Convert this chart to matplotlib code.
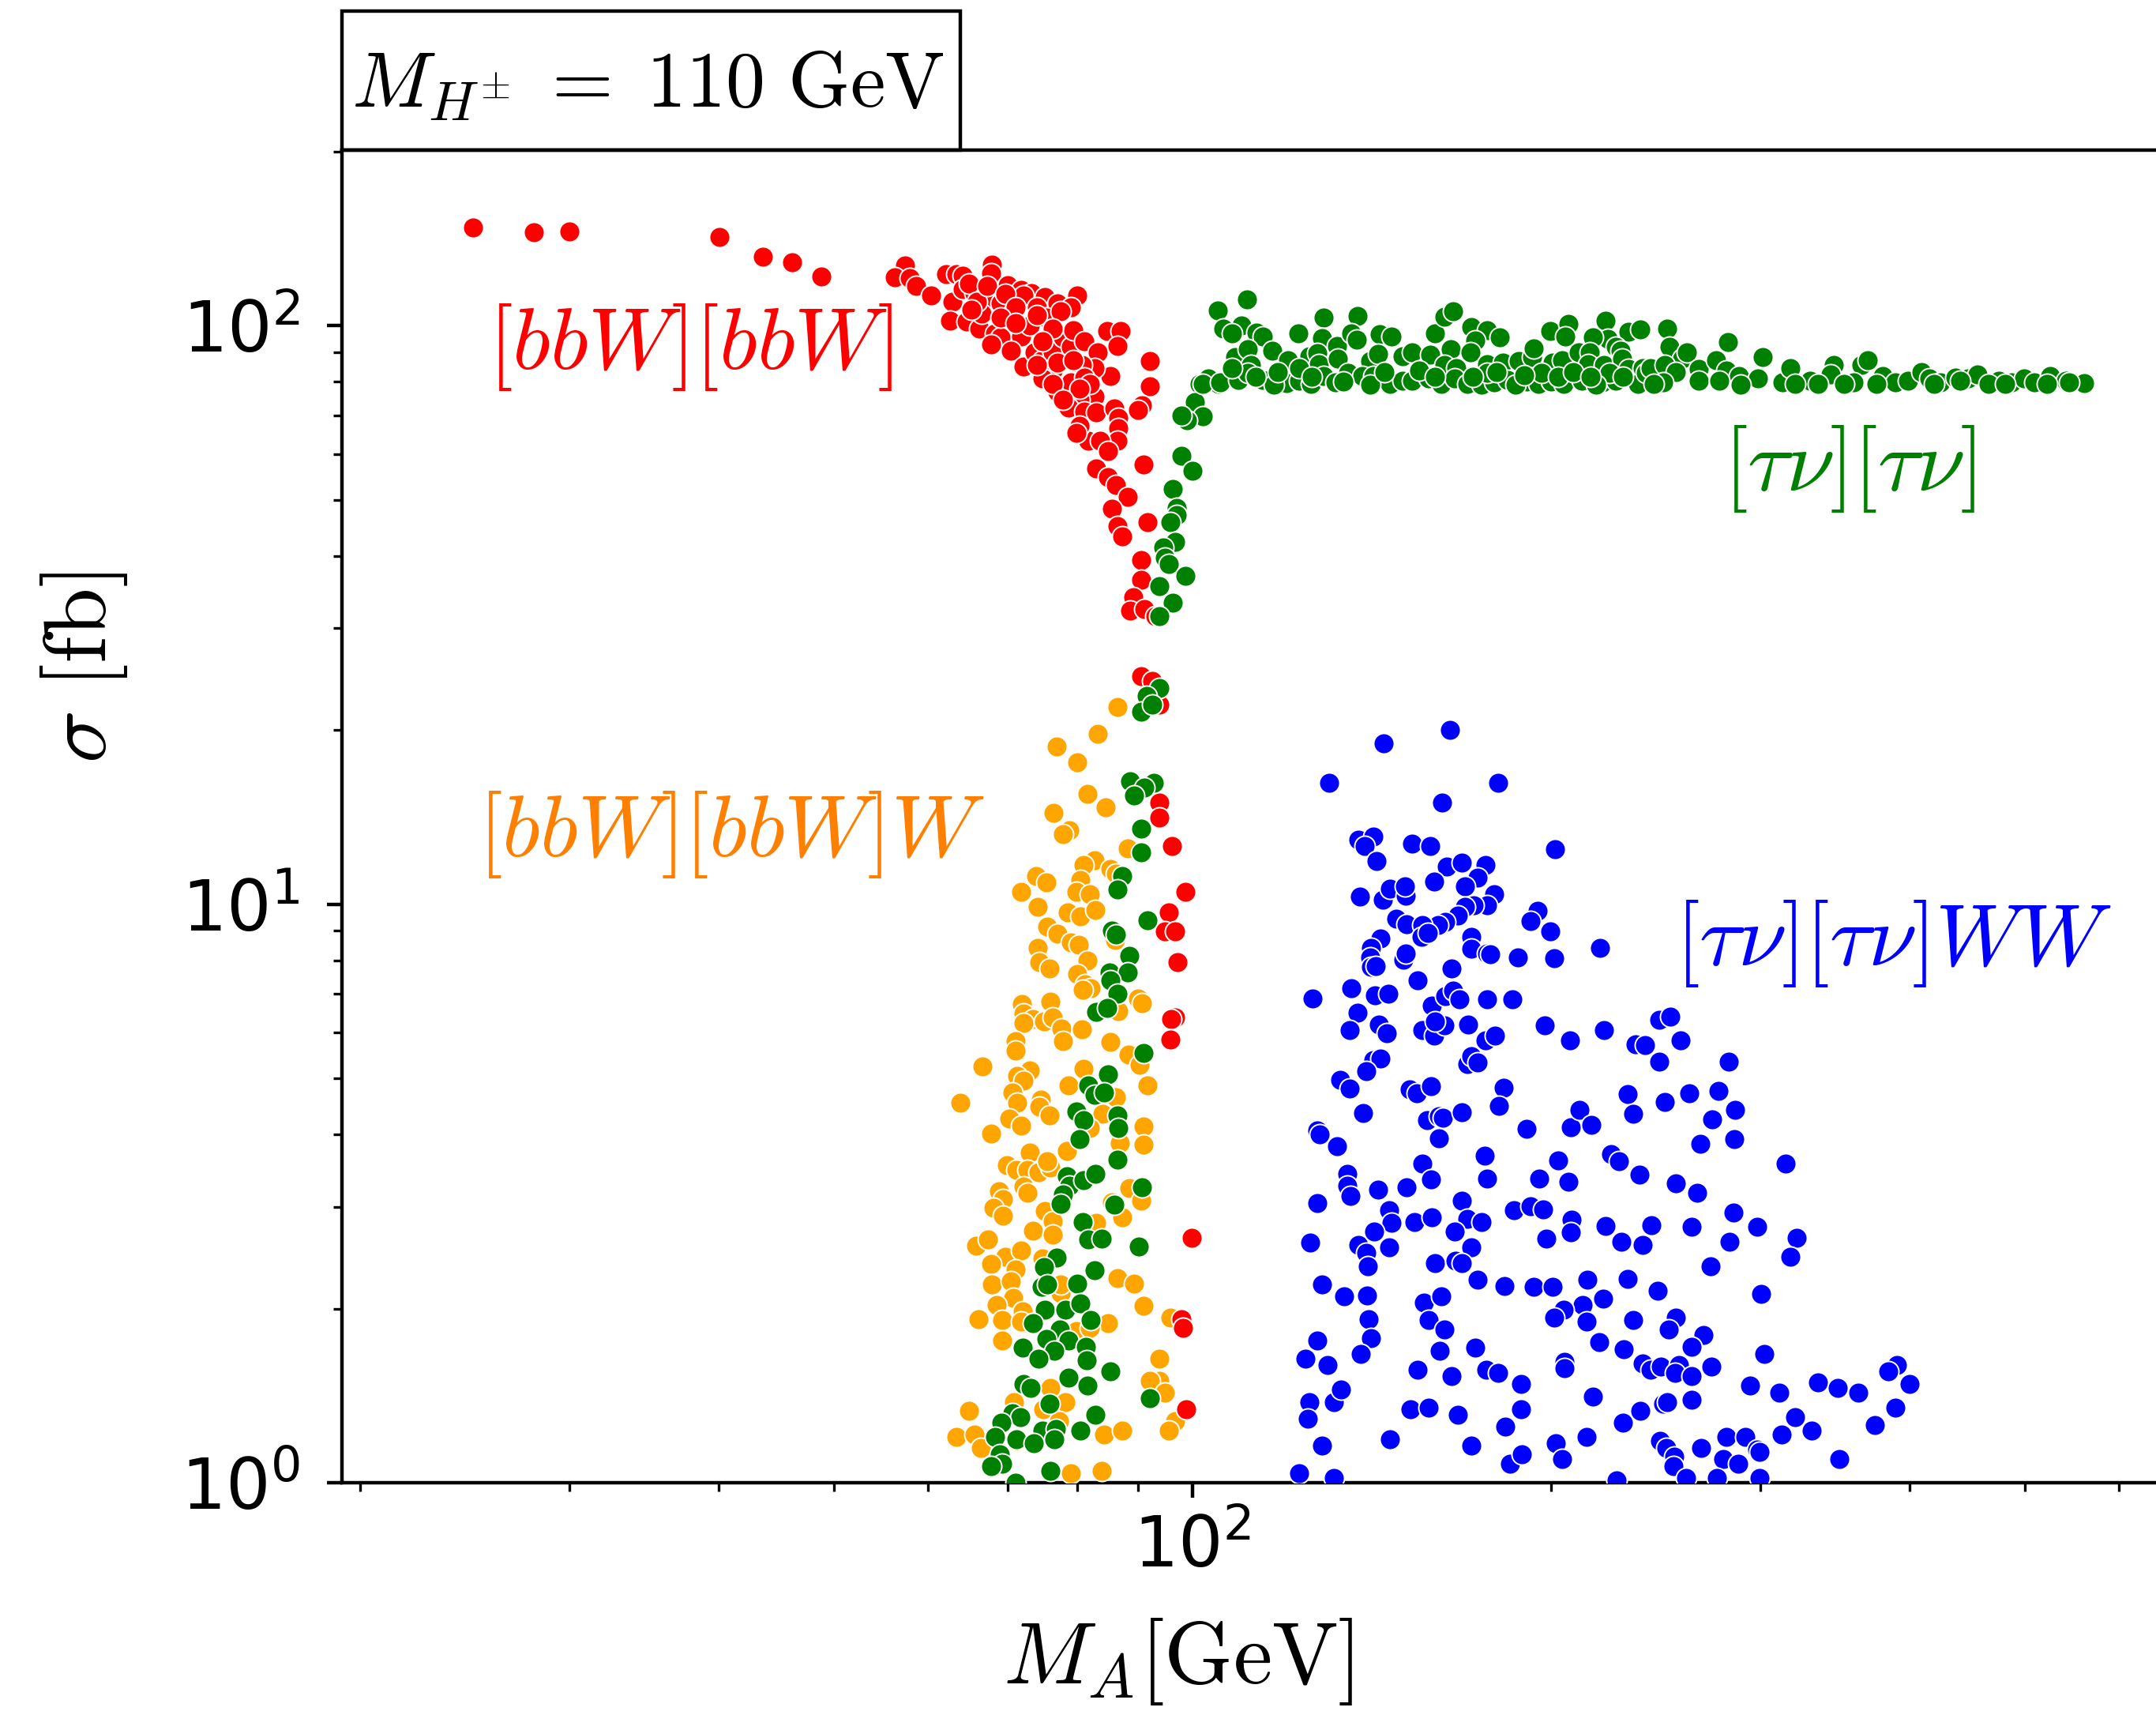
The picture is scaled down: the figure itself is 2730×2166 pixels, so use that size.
import numpy as np
import matplotlib
matplotlib.use("Agg")
import matplotlib.pyplot as plt
from matplotlib.patches import Rectangle

# ---- [bbW][bbW] channel: (M_A [GeV], sigma [fb]) ----
bbw_points = [
    (24.9, 147.6), (28.0, 145.0), (30.0, 145.4), (40.1, 142.3), (43.6, 131.6), (46.1, 128.5), (48.8, 121.7),
    (57.4, 127.1), (56.3, 121.3), (57.9, 120.6), (58.6, 116.9), (60.4, 112.7), (62.1, 122.6), (63.4, 122.6),
    (64.2, 121.9), (67.9, 127.4), (67.8, 123.2), (70.0, 117.5), (71.8, 115.1), (73.3, 113.9), (75.2, 112.1),
    (77.1, 109.2), (80.1, 112.7), (79.1, 107.5), (62.9, 109.8), (64.2, 115.7), (65.6, 113.9), (66.9, 110.9),
    (69.0, 109.2), (70.8, 110.9), (72.2, 112.7), (74.1, 107.5), (75.4, 103.1), (77.5, 105.8), (62.6, 102.0),
    (64.6, 101.5), (66.2, 98.9), (66.6, 104.7), (68.3, 96.8), (69.0, 95.3), (70.4, 104.2), (71.8, 95.8),
    (73.0, 99.9), (67.8, 92.8), (70.4, 90.4), (72.2, 84.9), (73.7, 89.9), (74.8, 87.2), (76.4, 89.9),
    (77.9, 95.3), (79.1, 91.9), (79.5, 98.3), (81.2, 93.8), (83.3, 89.9), (84.8, 97.8), (87.1, 97.8),
    (86.5, 92.3), (85.4, 81.8), (82.8, 84.5), (80.8, 85.4), (76.4, 83.6), (74.8, 81.0), (77.1, 76.9),
    (79.1, 79.7), (81.2, 81.4), (82.8, 75.3), (80.4, 74.5), (78.7, 72.2), (81.2, 71.0), (83.0, 70.7),
    (86.0, 71.8), (86.7, 69.2), (86.7, 66.4), (86.5, 63.3), (81.8, 63.3), (80.4, 67.1), (79.9, 65.3),
    (83.7, 63.3), (85.0, 60.7), (92.2, 86.7), (92.2, 78.5), (90.8, 72.9), (90.1, 71.4), (83.0, 56.7),
    (85.0, 54.7), (86.3, 53.0), (88.3, 50.5), (85.6, 48.2), (86.5, 45.0), (87.4, 43.2), (91.0, 57.6),
    (91.7, 45.7), (90.6, 39.3), (90.6, 36.3), (89.2, 33.9), (88.7, 32.2), (91.2, 32.4), (93.1, 31.5),
    (64.9, 118.1), (65.9, 109.8), (67.3, 116.9), (69.7, 113.3), (71.1, 107.5), (69.0, 103.1),
    (65.2, 106.4), (74.1, 104.2), (76.4, 98.9), (71.1, 101.0), (74.8, 93.8), (77.1, 86.3),
    (74.1, 85.4), (79.5, 87.2), (82.0, 79.3), (80.4, 77.7), (76.4, 79.3), (77.9, 74.5),
    (90.6, 24.8), (92.6, 24.3), (93.8, 22.1), (93.8, 15.0), (93.8, 14.1), (96.2, 12.6), (98.7, 10.5),
    (95.5, 9.69), (94.8, 8.96), (96.7, 8.98), (97.2, 7.94), (96.7, 6.37), (96.0, 6.34), (95.8, 5.83),
    (99.9, 2.65), (98.0, 1.92), (98.2, 1.85), (98.9, 1.34),
]

# ---- [bbW][bbW]W channel ----
bbww_points = [
    (86.5, 21.9), (83.3, 19.7), (76.9, 18.7), (80.1, 17.6), (81.6, 15.5), (76.5, 14.4), (84.6, 14.7),
    (78.9, 13.4), (77.9, 13.2), (88.3, 12.5), (82.8, 11.9), (81.0, 11.7), (85.4, 11.5), (86.3, 11.3),
    (73.9, 11.2), (75.4, 10.9), (71.8, 10.5), (80.6, 11.0), (79.9, 10.5), (82.0, 10.4), (74.2, 9.9),
    (78.6, 9.69), (80.6, 9.52), (82.9, 9.76), (75.5, 9.15), (77.0, 8.89), (79.1, 8.59), (80.3, 8.50),
    (86.2, 8.68), (74.2, 8.41), (74.4, 7.94), (75.9, 7.73), (81.7, 8.00), (80.0, 7.57), (81.3, 7.26),
    (82.2, 7.15), (80.9, 7.11), (90.1, 6.86), (90.8, 6.75), (71.9, 6.71), (76.0, 6.78), (72.2, 6.47),
    (73.5, 6.34), (72.2, 6.24), (75.1, 6.27), (76.4, 6.37), (77.6, 6.09), (80.8, 6.08), (86.7, 6.54),
    (71.1, 5.80), (77.9, 5.80), (85.3, 5.77), (71.1, 5.59), (88.4, 5.50),
    (66.7, 5.24), (73.1, 5.16), (71.3, 5.05), (72.2, 4.95), (63.9, 4.53), (70.6, 4.72), (71.3, 4.54),
    (74.6, 4.59), (74.4, 4.47), (75.9, 4.32), (70.2, 4.26), (71.8, 4.14), (67.8, 4.01), (78.7, 4.86),
    (81.0, 5.20), (86.3, 4.64), (84.1, 4.34), (82.0, 4.10), (91.0, 4.13), (91.0, 3.84), (86.9, 3.87),
    (91.7, 4.86), (90.3, 5.27), (78.5, 3.75), (73.1, 3.72), (69.9, 3.54), (71.2, 3.47), (72.7, 3.47),
    (74.3, 3.44), (76.0, 3.51), (75.6, 3.59), (68.8, 3.19), (69.3, 3.09), (72.2, 3.25), (72.7, 3.17),
    (68.1, 2.99), (69.3, 2.89), (75.2, 2.95), (76.3, 2.83), (73.5, 2.73), (76.3, 2.68), (83.0, 2.81),
    (88.5, 3.23), (90.6, 3.07), (87.4, 2.88), (85.6, 3.05), (65.8, 2.57), (67.4, 2.63), (69.7, 2.46),
    (71.8, 2.52), (67.8, 2.39), (71.1, 2.34), (74.9, 2.44), (67.9, 2.20), (70.4, 2.23), (70.7, 2.09),
    (68.5, 2.03), (77.5, 2.13), (77.5, 2.20), (72.0, 1.98), (86.5, 2.26), (89.3, 2.21), (91.0, 2.02),
    (69.2, 1.91), (71.8, 1.90), (66.1, 1.92), (85.0, 1.89), (79.9, 1.83), (82.0, 1.85), (95.9, 1.93),
    (69.2, 1.76), (93.8, 1.64), (93.8, 1.50), (92.2, 1.50), (94.8, 1.43), (76.0, 1.46), (70.9, 1.38),
    (78.3, 1.38), (75.0, 1.34), (64.9, 1.33), (63.4, 1.20), (65.6, 1.21), (66.4, 1.15), (77.3, 1.28),
    (84.3, 1.21), (87.4, 1.23), (96.7, 1.28), (95.5, 1.23), (79.1, 1.04), (84.0, 1.05), (71.2, 1.18),
]

# ---- [tau nu][tau nu] channel, steep branch below 100 GeV ----
taunu_low_points = [
    (98.0, 59.5), (100.0, 56.1), (96.3, 52.2), (97.0, 48.4), (97.0, 47.0), (95.8, 45.7), (96.7, 42.3),
    (94.6, 41.4), (94.8, 39.7), (95.5, 38.7), (98.7, 36.9), (93.8, 35.4), (96.3, 33.2), (93.8, 31.5),
    (93.8, 23.6), (91.5, 22.9), (90.6, 21.5), (92.6, 22.1), (88.7, 16.3), (92.9, 16.2), (91.2, 15.9),
    (89.4, 15.4), (90.6, 13.5), (90.6, 12.3), (87.4, 11.2), (86.5, 10.6), (91.7, 9.39), (85.6, 9.00),
    (86.3, 8.87), (88.5, 8.15), (85.2, 7.61), (88.3, 7.61), (85.4, 7.38), (86.5, 7.00), (83.0, 6.51),
    (84.8, 6.61), (91.0, 5.53),
    (85.0, 5.08), (81.8, 4.86), (82.8, 4.68), (84.3, 4.73), (79.9, 4.38), (81.1, 4.23), (80.4, 3.93),
    (86.5, 4.32), (86.7, 4.10), (86.6, 3.62), (78.5, 3.39), (78.9, 3.26), (81.0, 3.33), (82.9, 3.42),
    (77.9, 3.15), (77.5, 3.03), (90.8, 3.24), (86.0, 3.02), (80.9, 2.82), (81.8, 2.63), (84.0, 2.64),
    (90.2, 2.56), (76.9, 2.45), (75.1, 2.36), (74.7, 2.18), (75.6, 2.20), (80.0, 2.21), (82.8, 2.33),
    (75.2, 1.99), (78.3, 1.99), (80.6, 2.04), (82.1, 1.91), (73.5, 1.89), (77.4, 1.84), (75.4, 1.77),
    (78.7, 1.76), (76.6, 1.69), (72.1, 1.71), (74.3, 1.64), (81.4, 1.72), (81.5, 1.63), (85.4, 1.56),
    (78.7, 1.52), (81.7, 1.47), (72.2, 1.48), (73.2, 1.46), (92.2, 1.40), (75.9, 1.37), (70.6, 1.32),
    (71.7, 1.30), (69.1, 1.27), (82.9, 1.31), (74.8, 1.23), (76.8, 1.24), (68.3, 1.20), (71.2, 1.19),
    (73.6, 1.17), (76.6, 1.19), (80.6, 1.23), (68.9, 1.12), (69.2, 1.08), (67.8, 1.07), (76.0, 1.05),
    (71.1, 1.00),
]

# ---- [tau nu][tau nu] channel, plateau above 100 GeV ----
taunu_high_points = [
    (105.2, 79.3), (103.1, 81.0), (101.5, 79.3), (100.5, 73.7), (102.1, 69.6), (99.0, 68.5), (98.0, 69.9),
    (105.0, 106.2), (111.2, 110.9), (106.2, 98.9), (110.0, 100.1), (108.0, 96.8), (113.3, 97.3),
    (114.6, 95.6), (122.7, 96.8), (129.0, 103.3), (137.7, 103.8), (128.6, 95.0), (132.2, 92.3),
    (135.9, 96.8), (137.5, 94.6), (143.6, 96.6), (147.0, 95.6), (159.9, 97.0), (162.9, 103.6),
    (165.5, 105.8), (171.4, 99.4), (176.7, 98.3), (181.1, 95.3), (172.8, 94.3), (199.8, 97.8),
    (207.1, 100.7), (222.2, 102.0), (205.8, 95.6), (223.2, 94.8), (232.4, 97.5), (237.9, 98.5),
    (216.9, 95.3), (226.7, 91.9),
    (108.6, 88.1), (111.4, 90.9), (116.7, 90.4), (112.1, 85.4), (120.4, 87.2), (125.4, 88.6),
    (127.4, 89.5), (127.8, 85.8), (132.6, 87.6), (141.1, 86.7), (143.3, 89.2), (150.2, 88.6),
    (153.0, 89.9), (158.4, 89.0), (164.9, 90.9), (171.2, 89.9), (162.9, 85.4), (166.5, 84.5),
    (176.7, 85.8), (182.2, 86.3), (187.9, 86.7), (192.8, 88.1), (193.4, 91.4), (200.7, 86.3),
    (204.5, 87.2), (211.0, 89.9), (215.6, 89.9), (214.9, 85.8), (221.8, 85.4), (228.8, 90.4),
    (229.5, 87.6), (232.4, 84.1), (238.9, 84.5),
    (102.1, 79.3), (105.6, 79.7), (109.3, 80.6), (114.6, 80.6), (120.0, 79.5), (123.0, 80.2),
    (125.8, 79.3), (129.0, 81.8), (131.8, 79.7), (135.1, 82.7), (139.0, 81.8), (142.0, 81.8),
    (146.5, 79.3), (150.2, 80.2), (153.0, 80.2), (157.9, 81.0), (161.9, 79.3), (166.0, 81.0),
    (170.2, 79.3), (175.0, 78.9), (179.4, 79.7), (183.9, 80.6), (191.0, 80.0), (195.2, 79.3),
    (200.1, 80.0), (205.1, 79.3), (212.3, 80.2), (221.1, 79.7), (226.7, 80.2), (236.8, 79.3),
    (240.4, 82.7), (111.4, 82.7), (108.0, 84.5), (123.0, 84.5), (155.0, 83.6), (176.7, 82.7),
    (196.4, 82.7), (223.9, 82.7), (117.1, 78.9), (141.1, 78.9), (186.8, 78.9), (218.3, 78.9),
    (113.0, 81.5), (118.0, 83.0), (126.0, 81.5), (134.0, 80.0), (145.0, 83.0), (160.0, 81.5),
    (172.0, 81.5), (180.0, 83.0), (190.0, 82.0), (203.0, 81.5), (209.0, 83.0), (216.0, 81.5),
    (230.0, 81.5),
    (250.4, 98.9), (281.9, 93.5), (251.6, 91.9), (258.0, 87.6), (260.4, 89.9), (242.4, 84.5),
    (249.3, 85.4), (254.8, 83.2), (266.2, 84.1), (275.5, 87.2), (280.7, 83.6), (301.5, 88.1),
    (287.8, 81.8), (298.7, 81.0), (313.0, 79.7), (318.0, 84.5), (330.1, 80.2), (345.9, 85.4),
    (343.8, 82.3), (364.7, 85.4), (369.3, 87.2), (359.1, 79.7), (379.8, 81.8), (389.4, 79.7),
    (399.1, 80.2), (409.3, 83.2), (415.7, 81.0), (424.9, 79.7), (437.0, 81.4), (448.1, 81.0),
    (456.5, 82.3), (475.4, 80.2), (487.3, 79.7), (499.6, 81.0), (509.1, 79.7), (525.1, 81.8),
    (541.7, 80.2), (560.6, 79.6), (248.5, 79.7), (266.2, 80.2), (277.2, 80.2), (288.7, 78.9),
    (335.3, 79.3), (375.1, 79.3), (466.6, 79.3), (521.9, 79.3), (243.9, 79.3), (352.5, 79.3),
    (419.7, 79.3), (441.1, 80.2), (545.1, 79.7), (481.3, 79.3), (320.9, 79.3),
]

# ---- [tau nu][tau nu]WW channel ----
taunuww_points = [
    (144.8, 18.98), (164.7, 19.98), (130.3, 16.2), (180.7, 16.2), (162.2, 14.96), (137.9, 12.91),
    (141.9, 13.09), (139.5, 12.59), (142.7, 11.87), (152.9, 12.71), (158.3, 12.59), (163.6, 11.63),
    (168.3, 11.80), (176.2, 11.70), (173.7, 11.12), (159.6, 10.93), (169.4, 10.73), (138.3, 10.30),
    (144.6, 10.18), (146.5, 10.65), (151.0, 10.34), (150.9, 10.75), (179.2, 10.40), (176.7, 9.94),
    (172.4, 9.94), (169.4, 9.88), (167.0, 9.56), (163.0, 9.32), (160.9, 9.19), (148.3, 9.45),
    (151.4, 9.24), (156.0, 9.19), (155.7, 8.78), (157.7, 8.92), (143.9, 8.71), (141.2, 8.41),
    (141.0, 8.09), (141.2, 7.78), (142.5, 7.82), (150.3, 8.01), (151.0, 8.22), (154.5, 7.39),
    (165.1, 7.74), (171.5, 8.78), (171.5, 8.38), (176.9, 8.22), (177.9, 8.19), (187.8, 8.09),
    (201.3, 8.07), (199.8, 8.96), (195.1, 9.75), (192.3, 9.34), (201.6, 12.44), (219.9, 8.40),
    (126.1, 6.87), (135.9, 7.16), (137.6, 6.50), (135.6, 6.05), (142.3, 6.96), (146.1, 7.01),
    (143.5, 6.20), (145.7, 5.99), (156.1, 6.05), (159.6, 5.93), (158.9, 6.67), (162.8, 6.17),
    (159.9, 6.27), (163.0, 6.94), (165.5, 7.08), (167.7, 6.84), (170.5, 6.20), (176.9, 6.84),
    (185.8, 6.84), (176.4, 5.82), (179.6, 5.93), (197.8, 6.17), (207.6, 5.81), (221.6, 6.06),
    (142.0, 5.38), (143.9, 5.41), (139.9, 5.14), (133.2, 4.97), (135.6, 4.80), (139.2, 4.35),
    (152.2, 4.78), (154.3, 4.71), (158.7, 4.85), (170.1, 5.30), (171.4, 5.46), (173.5, 5.32),
    (182.5, 4.81), (181.0, 4.48), (157.5, 4.23), (161.2, 4.30), (162.4, 4.28), (161.2, 3.94),
    (168.3, 4.37), (190.9, 4.09), (207.9, 4.11), (211.3, 4.41), (216.2, 4.16), (224.7, 3.70),
    (127.4, 4.06), (128.0, 4.00), (132.2, 3.82), (135.0, 3.42), (135.0, 3.26), (135.8, 3.13),
    (127.4, 3.04), (143.3, 3.21), (151.3, 3.24), (156.0, 3.56), (158.7, 3.34), (176.1, 3.68),
    (176.7, 3.36), (146.3, 2.96), (147.0, 2.81), (153.7, 2.82), (158.9, 2.88), (168.5, 3.07),
    (170.2, 2.86), (174.9, 2.82), (186.3, 2.96), (192.3, 3.01), (197.1, 2.97), (195.5, 3.35),
    (202.9, 3.61), (207.1, 3.31), (208.1, 2.85), (207.8, 2.71), (198.2, 2.64), (222.2, 2.78),
    (125.6, 2.60), (137.9, 2.58), (139.9, 2.50), (140.5, 2.37), (142.1, 2.72), (146.4, 2.55),
    (166.1, 2.72), (171.4, 2.55), (160.0, 2.40), (166.4, 2.42), (168.5, 2.40), (173.5, 2.24),
    (183.0, 2.19), (193.6, 2.18), (200.8, 2.18), (214.8, 2.24), (221.2, 2.08), (212.7, 2.03),
    (214.2, 1.90), (205.0, 1.99), (201.3, 1.93), (128.6, 2.20), (134.1, 2.10), (140.1, 2.11),
    (140.6, 1.92), (141.2, 1.78), (156.4, 2.05), (161.8, 2.10), (157.9, 1.91), (162.8, 1.84),
    (127.4, 1.76), (124.5, 1.64), (129.9, 1.60), (138.6, 1.67), (161.4, 1.69), (172.9, 1.71),
    (154.5, 1.57), (165.2, 1.53), (176.6, 1.57), (180.7, 1.55), (188.7, 1.48), (205.5, 1.62),
    (205.5, 1.58), (219.8, 1.75), (217.1, 1.41), (125.4, 1.38), (125.1, 1.29), (131.5, 1.38),
    (133.3, 1.45), (128.6, 1.16), (146.5, 1.19), (152.6, 1.34), (157.9, 1.35), (167.2, 1.31),
    (183.1, 1.25), (188.7, 1.34), (171.6, 1.16), (184.7, 1.08), (189.1, 1.12), (202.0, 1.17),
    (204.4, 1.10), (214.3, 1.20), (122.9, 1.04), (131.5, 1.02),
    (246.8, 6.32), (251.9, 6.39), (235.8, 5.73), (240.0, 5.71), (257.0, 5.81), (246.8, 5.35),
    (282.0, 5.35), (232.2, 4.69), (234.6, 4.34), (249.3, 4.55), (261.4, 4.71), (276.7, 4.76),
    (285.8, 4.41), (273.2, 4.25), (267.0, 3.85), (285.3, 3.93), (314.8, 3.56), (228.1, 3.60),
    (237.3, 3.41), (254.8, 3.29), (265.3, 3.17), (284.9, 2.93), (298.3, 2.77), (242.8, 2.79),
    (262.6, 2.77), (229.3, 2.61), (238.8, 2.58), (282.4, 2.61), (321.6, 2.65), (318.0, 2.46),
    (272.5, 2.37), (231.9, 2.25), (245.9, 2.15), (300.3, 2.12), (234.4, 1.91), (254.8, 1.93),
    (251.2, 1.84), (268.8, 1.80), (262.7, 1.72), (230.2, 1.70), (238.8, 1.61), (242.7, 1.57),
    (247.4, 1.59), (256.1, 1.60), (254.2, 1.55), (262.7, 1.53), (272.8, 1.59), (302.3, 1.67),
    (293.9, 1.47), (311.2, 1.43), (335.5, 1.49), (348.3, 1.46), (362.4, 1.43), (390.6, 1.60),
    (383.9, 1.56), (400.3, 1.48), (389.6, 1.35), (374.1, 1.26), (320.8, 1.30), (331.1, 1.23),
    (237.9, 1.33), (248.7, 1.37), (250.6, 1.38), (262.7, 1.39), (230.1, 1.27), (247.2, 1.18),
    (250.0, 1.15), (253.8, 1.11), (253.5, 1.07), (267.4, 1.15), (281.0, 1.20), (291.5, 1.20),
    (298.0, 1.14), (299.5, 1.13), (279.1, 1.10), (287.5, 1.08), (312.5, 1.21), (349.4, 1.10),
    (227.0, 1.01), (259.9, 1.02), (275.6, 1.02), (299.5, 1.02),
]

channel_labels = [r"$[bbW][bbW]$", r"$[\tau\nu][\tau\nu]$", r"$[bbW][bbW]W$", r"$[\tau\nu][\tau\nu]WW$"]
label_positions = [(37.9, 91.7), (356.0, 56.6), (41.0, 13.2), (387.7, 8.56)]
label_colors = ["#ff0000", "#008000", "#ff7f00", "#0000ff"]

fig = plt.figure(figsize=(6.825, 5.415), dpi=400)
ax = fig.add_axes([0.1586, 0.1334, 0.8414, 0.7789])

marker_kw = dict(s=22, edgecolors="white", linewidths=0.35, zorder=3)


def scatter(points, color):
    arr = np.array(points)
    ax.scatter(arr[:, 0], arr[:, 1], color=color, **marker_kw)


scatter(bbww_points, "#ffa500")
scatter(bbw_points, "#ff0000")
scatter(taunu_low_points, "#008000")
scatter(taunu_high_points, "#008000")
scatter(taunuww_points, "#0000ff")

ax.set_xscale("log")
ax.set_yscale("log")
ax.set_xlim(19.32, 644.5)
ax.set_ylim(1.0, 201.0)
ax.spines["right"].set_visible(False)

ax.tick_params(axis="both", which="major", labelsize=16)
ax.tick_params(axis="y", which="major", pad=6)

ax.set_xlabel(r"$M_A[\mathrm{GeV}]$", fontsize=20, math_fontfamily="cm")
ax.set_ylabel(r"$\sigma\ [\mathrm{fb}]$", fontsize=20, math_fontfamily="cm")
ax.xaxis.set_label_coords(0.461, -0.100)
ax.yaxis.set_label_coords(-0.117, 0.612)

for text, (lx, ly), c in zip(channel_labels, label_positions, label_colors):
    ax.text(lx, ly, text, color=c, fontsize=20, ha="center", va="center",
            math_fontfamily="cm", zorder=4)

# boxed heading sitting on top of the axes frame
ax.add_patch(Rectangle((0.0, 1.0), 0.3409, 0.1043, transform=ax.transAxes,
                       fill=False, edgecolor="black", linewidth=0.8, clip_on=False))
ax.text(0.1685, 1.032, r"$M_{H^{\pm}}\;=\;110\ \mathrm{GeV}$", transform=ax.transAxes,
        ha="center", va="baseline", fontsize=18, math_fontfamily="cm")

fig.savefig("out.png", dpi=400)
